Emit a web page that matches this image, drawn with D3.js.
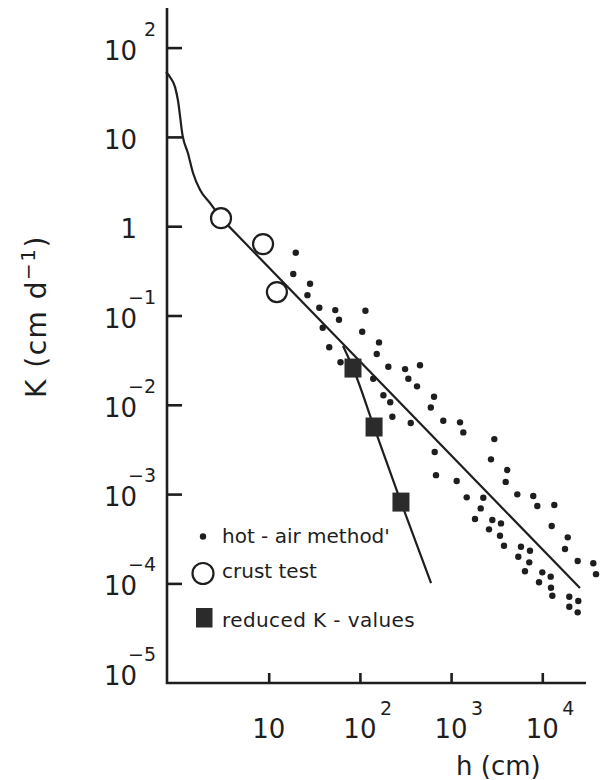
<!DOCTYPE html>
<html>
<head>
<meta charset="utf-8">
<script src="https://cdn.jsdelivr.net/npm/d3@7"></script>
<style>
body { margin: 0; background: #fff; }
text { font-family: "DejaVu Sans", sans-serif; fill: #1e1e1e; }
</style>
</head>
<body>
<div id="chart-area"></div>
<script>

// hot-air method measurements, h (cm) and K (cm/d)
var hotAirH = [19.8, 18.6, 28.4, 26.6, 35.9, 53.7, 59.0, 115, 39.1, 106,
    46.1, 162, 153, 61.3, 205, 313, 456, 340, 140, 423,
    181, 215, 650, 599, 227, 361, 821, 1253, 1361, 661,
    2978, 2738, 4131, 3970, 683, 1152, 1483, 2254, 5321, 7962,
    8817, 13540, 2112, 1828, 2831, 3524, 2604, 12680, 3436, 3802,
    5834, 7328, 5457, 7199, 19010, 17740, 6457, 10000, 12360, 9204,
    12450, 12880, 24430, 36240, 38810, 19770, 24820, 19770, 24430];
var hotAirK = [0.505, 0.291, 0.227, 0.169, 0.122, 0.115, 0.0895, 0.113, 0.0730, 0.0658,
    0.0441, 0.0500, 0.0370, 0.0299, 0.0267, 0.0251, 0.0277, 0.0196, 0.0196, 0.0161,
    0.0128, 0.0107, 0.0123, 0.00931, 0.00735, 0.00625, 0.00663, 0.00636, 0.00491, 0.00296,
    0.00413, 0.00245, 0.00186, 0.00137, 0.00163, 0.00140, 0.000920, 0.000910, 0.000993, 0.000951,
    0.000735, 0.000754, 0.000692, 0.000526, 0.000512, 0.000470, 0.000403, 0.000439, 0.000342, 0.000264,
    0.000257, 0.000232, 0.000199, 0.000172, 0.000328, 0.000243, 0.000137, 0.000133, 0.000119, 0.000103,
    0.0000893, 0.0000728, 0.000178, 0.000168, 0.000127, 0.0000708, 0.0000634, 0.0000548, 0.0000474];

// crust test
var crustH = [3.0, 8.67, 12.3];
var crustK = [1.23, 0.63, 0.183];

// reduced K-values
var reducedH = [84, 143, 282];
var reducedK = [0.0258, 0.00564, 0.000814];

// fitted curve: wet end, then the straight part
var fitTailH = [0.748, 0.828, 0.940, 1.01, 1.14, 1.30, 1.48, 1.77, 2.27, 3.07];
var fitTailK = [53.2, 46.8, 36.1, 25.9, 10.2, 6.59, 3.94, 2.54, 1.82, 1.20];
var fitLineH = [3.07, 25880];
var fitLineK = [1.20, 0.0000887];

// line through the reduced K-values
var reducedLineH = [65.3, 84, 143, 282, 603];
var reducedLineK = [0.0455, 0.0258, 0.00564, 0.000814, 0.000101];

// ticks
var yTickValues = [1e2, 1e1, 1, 1e-1, 1e-2, 1e-3, 1e-4, 1e-5];
var yTickBase = ["10", "10", "1", "10", "10", "10", "10", "10"];
var yTickSup = ["2", "", "", "\u22121", "\u22122", "\u22123", "\u22124", "\u22125"];
var xTickValues = [10, 100, 1000, 10000];
var xTickSup = ["", "2", "3", "4"];

var ink = "#1e1e1e";

var svg = d3.select("#chart-area")
    .append("svg")
    .attr("width", 606)
    .attr("height", 780);

var originX = 167, originY = 683, axisTop = 8, axisRight = 586;

var x = d3.scaleLog()
    .domain([10, 1e4])
    .range([268.7, 542.3]);

var y = d3.scaleLog()
    .domain([1e-5, 1e2])
    .range([672.7, 47.6]);

// axis lines
svg.append("path")
    .attr("d", "M" + originX + "," + axisTop + "V" + originY + "H" + axisRight)
    .attr("fill", "none")
    .attr("stroke", ink)
    .attr("stroke-width", 2.6);

// tick marks pointing inwards
var yAxis = svg.append("g")
    .attr("transform", "translate(" + originX + ",0)")
    .call(d3.axisRight(y).tickValues(yTickValues.slice(0, 7)).tickSize(15).tickFormat(""));
yAxis.select(".domain").remove();
yAxis.selectAll("line").attr("stroke", ink).attr("stroke-width", 2.6);

var xAxis = svg.append("g")
    .attr("transform", "translate(0," + originY + ")")
    .call(d3.axisTop(x).tickValues(xTickValues).tickSize(10).tickFormat(""));
xAxis.select(".domain").remove();
xAxis.selectAll("line").attr("stroke", ink).attr("stroke-width", 2.6);

// y tick labels
yTickValues.forEach(function(v, i) {
    svg.append("text")
        .attr("x", 137)
        .attr("y", y(v) + 12)
        .attr("text-anchor", "end")
        .style("font-size", "26px")
        .text(yTickBase[i]);
    if (yTickSup[i]) {
        svg.append("text")
            .attr("x", 156)
            .attr("y", y(v) - 12)
            .attr("text-anchor", "end")
            .style("font-size", "19px")
            .text(yTickSup[i]);
    }
});

// x tick labels
xTickValues.forEach(function(v, i) {
    svg.append("text")
        .attr("x", x(v))
        .attr("y", 738)
        .attr("text-anchor", "middle")
        .style("font-size", "26px")
        .text("10");
    if (xTickSup[i]) {
        svg.append("text")
            .attr("x", x(v) + 20)
            .attr("y", 715)
            .style("font-size", "19px")
            .text(xTickSup[i]);
    }
});

// axis titles
svg.append("text")
    .attr("x", 456)
    .attr("y", 775)
    .style("font-size", "26px")
    .text("h (cm)");

var yTitle = svg.append("text")
    .attr("transform", "translate(46,398) rotate(-90)")
    .style("font-size", "28px")
    .style("letter-spacing", "1.5px");
yTitle.append("tspan").text("K (cm d");
yTitle.append("tspan").attr("dy", -11).style("font-size", "20px").text("\u22121");
yTitle.append("tspan").attr("dy", 11).text(")");

// lines
function pairs(hs, ks) {
    return hs.map(function(h, i) { return [h, ks[i]]; });
}

var smooth = d3.line()
    .x(function(d) { return x(d[0]); })
    .y(function(d) { return y(d[1]); })
    .curve(d3.curveMonotoneX);

var straight = d3.line()
    .x(function(d) { return x(d[0]); })
    .y(function(d) { return y(d[1]); });

svg.append("path")
    .attr("d", smooth(pairs(fitTailH, fitTailK)))
    .attr("fill", "none").attr("stroke", ink).attr("stroke-width", 2.2);

svg.append("path")
    .attr("d", straight(pairs(fitLineH, fitLineK)))
    .attr("fill", "none").attr("stroke", ink).attr("stroke-width", 2.2);

svg.append("path")
    .attr("d", smooth(pairs(reducedLineH, reducedLineK)))
    .attr("fill", "none").attr("stroke", ink).attr("stroke-width", 2.2);

// hot-air dots
svg.selectAll(".dot")
    .data(pairs(hotAirH, hotAirK))
    .enter()
    .append("circle")
    .attr("class", "dot")
    .attr("cx", function(d) { return x(d[0]); })
    .attr("cy", function(d) { return y(d[1]); })
    .attr("r", 3.2)
    .attr("fill", ink);

// reduced K squares
svg.selectAll(".sq")
    .data(pairs(reducedH, reducedK))
    .enter()
    .append("rect")
    .attr("class", "sq")
    .attr("x", function(d) { return x(d[0]) - 8.5; })
    .attr("y", function(d) { return y(d[1]) - 9.5; })
    .attr("width", 17)
    .attr("height", 19)
    .attr("fill", "#2b2b2b");

// crust test circles
svg.selectAll(".crust")
    .data(pairs(crustH, crustK))
    .enter()
    .append("circle")
    .attr("class", "crust")
    .attr("cx", function(d) { return x(d[0]); })
    .attr("cy", function(d) { return y(d[1]); })
    .attr("r", 10)
    .attr("fill", "#fff")
    .attr("stroke", ink)
    .attr("stroke-width", 2.2);

// legend
svg.append("circle")
    .attr("cx", 203).attr("cy", 536.5).attr("r", 3.2).attr("fill", ink);
svg.append("text")
    .attr("x", 222).attr("y", 542.5)
    .style("font-size", "20px")
    .text("hot - air method'");

svg.append("circle")
    .attr("cx", 203).attr("cy", 573.5).attr("r", 10.5)
    .attr("fill", "#fff").attr("stroke", ink).attr("stroke-width", 2.2);
svg.append("text")
    .attr("x", 222).attr("y", 578)
    .style("font-size", "20px")
    .text("crust test");

svg.append("rect")
    .attr("x", 196).attr("y", 608).attr("width", 16.5).attr("height", 19.5)
    .attr("fill", "#2b2b2b");
svg.append("text")
    .attr("x", 222).attr("y", 626.5)
    .style("font-size", "20px")
    .style("letter-spacing", "0.4px")
    .text("reduced K - values");

</script>
</body>
</html>
